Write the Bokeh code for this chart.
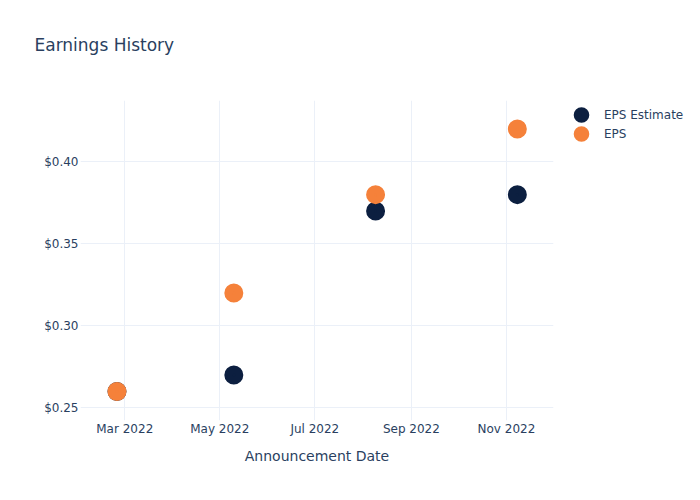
import datetime as dt
from bokeh.plotting import figure
from bokeh.models import (Legend, LegendItem, FixedTicker, NumeralTickFormatter,
                          DatetimeTickFormatter, Range1d, ColumnDataSource, Title)
from bokeh.embed import file_html
from bokeh.resources import INLINE

# ---- data ----
dates = ["2022-02-24", "2022-05-10", "2022-08-09", "2022-11-08"]
eps_estimate = [0.26, 0.27, 0.37, 0.38]
eps_actual = [0.26, 0.32, 0.38, 0.42]
y_ticks = [0.25, 0.30, 0.35, 0.40]
x_tick_dates = ["2022-03-01", "2022-05-01", "2022-07-01", "2022-09-01", "2022-11-01"]

FONT = "DejaVu Sans"
TXT = "#2a3f5f"
GRID = "#ebf0f8"
NAVY = "#0c1f40"
ORANGE = "#f5813a"


def to_dt(s):
    return dt.datetime.strptime(s, "%Y-%m-%d")


def to_ms(d):
    return (d - dt.datetime(1970, 1, 1)).total_seconds() * 1000.0


x = [to_dt(d) for d in dates]
src_est = ColumnDataSource(dict(x=x, y=eps_estimate))
src_eps = ColumnDataSource(dict(x=x, y=eps_actual))

p = figure(frame_width=473, frame_height=320, x_axis_type="datetime",
           output_backend="svg", toolbar_location=None,
           x_range=Range1d(dt.datetime(2022, 1, 31, 14), dt.datetime(2022, 12, 1, 5)),
           y_range=Range1d(0.2423, 0.4374),
           min_border_left=80, min_border_right=147,
           min_border_top=100, min_border_bottom=80)
p.outline_line_color = None
p.background_fill_color = "white"
p.border_fill_color = "white"

# title (outermost) + an inner spacer to lift it above the frame
p.title.text = "Earnings History"
p.title.text_font = FONT
p.title.text_font_size = "17px"
p.title.text_font_style = "normal"
p.title.text_color = TXT
p.title.align = "left"
p.title.offset = -46
p.title.standoff = 0
p.title.vertical_align = "bottom"
spacer = Title(text=" ", text_font_size="10px", standoff=33)
p.add_layout(spacer, "above")

# marker drawn as a filled core plus a thick same-colour outline (19 px overall)
r_est = p.scatter("x", "y", source=src_est, size=11, fill_color=NAVY,
                  line_color=NAVY, line_width=8)
r_eps = p.scatter("x", "y", source=src_eps, size=11, fill_color=ORANGE,
                  line_color=ORANGE, line_width=8)

# axes
for ax in (p.xaxis[0], p.yaxis[0]):
    ax.axis_line_color = None
    ax.major_tick_line_color = None
    ax.minor_tick_line_color = None
    ax.major_tick_out = 0
    ax.major_tick_in = 0
    ax.minor_tick_out = 0
    ax.minor_tick_in = 0
    ax.major_label_text_font = FONT
    ax.major_label_text_font_size = "12px"
    ax.major_label_text_color = TXT

p.yaxis.major_label_standoff = 2
p.xaxis.major_label_standoff = 1
p.yaxis.ticker = FixedTicker(ticks=y_ticks)
p.yaxis.formatter = NumeralTickFormatter(format="$0.00")
p.xaxis.ticker = FixedTicker(ticks=[to_ms(to_dt(d)) for d in x_tick_dates])
p.xaxis.formatter = DatetimeTickFormatter(days="%b %Y", months="%b %Y", years="%b %Y")
p.xaxis.axis_label = "Announcement Date"
p.xaxis.axis_label_text_font = FONT
p.xaxis.axis_label_text_font_size = "14px"
p.xaxis.axis_label_text_font_style = "normal"
p.xaxis.axis_label_text_color = TXT
p.xaxis.axis_label_standoff = 9

p.xgrid.grid_line_color = GRID
p.ygrid.grid_line_color = GRID
p.xgrid.grid_line_width = 1
p.ygrid.grid_line_width = 1

legend = Legend(items=[LegendItem(label="EPS Estimate", renderers=[r_est]),
                       LegendItem(label="EPS", renderers=[r_eps])],
                location="top_left", orientation="vertical",
                glyph_width=46, glyph_height=19, label_height=19, spacing=0,
                padding=5, margin=5, label_standoff=0,
                border_line_color=None, background_fill_alpha=0,
                label_text_font=FONT, label_text_font_size="12px",
                label_text_color=TXT)
p.add_layout(legend, "right")

open("out.html", "w").write(file_html(p, INLINE))
